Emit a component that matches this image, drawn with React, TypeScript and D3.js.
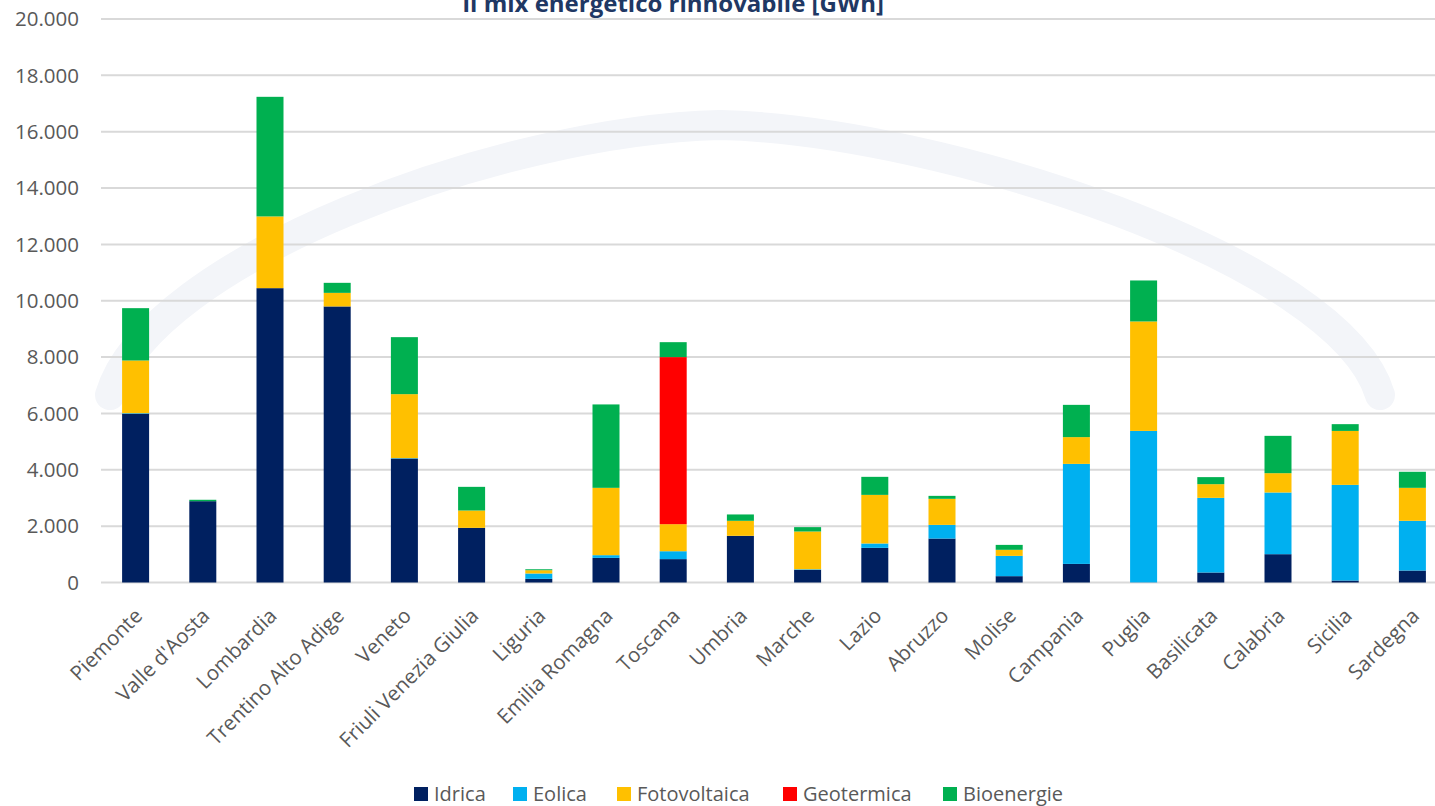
import React from "react";
import * as d3 from "d3";

const categories = ["Piemonte","Valle d'Aosta","Lombardia","Trentino Alto Adige","Veneto","Friuli Venezia Giulia","Liguria","Emilia Romagna","Toscana","Umbria","Marche","Lazio","Abruzzo","Molise","Campania","Puglia","Basilicata","Calabria","Sicilia","Sardegna"];
const idrica = [5990,2886,10447,9798,4400,1940,130,875,830,1655,450,1230,1560,225,660,5,355,1005,70,425];
const eolica = [20,0,0,0,15,0,190,95,280,2,20,155,485,720,3550,5375,2650,2190,3395,1765];
const fotovoltaica = [1870,0,2546,482,2270,615,116,2390,960,533,1340,1725,925,215,950,3885,485,685,1915,1170];
const geotermica = [0,0,0,0,0,0,0,0,5930,0,0,0,0,0,0,0,0,0,0,0];
const bioenergie = [1857,50,4245,356,2023,840,34,2960,530,225,155,640,105,175,1145,1455,250,1325,240,570];
const seriesNames = ["Idrica","Eolica","Fotovoltaica","Geotermica","Bioenergie"];
const seriesColors = ["#002060","#00B0F0","#FFC000","#FF0000","#00B050"];
const yTicks = [0,2000,4000,6000,8000,10000,12000,14000,16000,18000,20000];
const title = "Il mix energetico rinnovabile [GWh]";

const FONT = "'Open Sans', sans-serif";

export default function App() {
  const W = 1435, H = 806;
  const x = d3.scaleBand<string>().domain(categories).range([102, 1446]).paddingInner(0.6).paddingOuter(0.3);
  const y = d3.scaleLinear().domain([0, 20000]).range([582.5, 19]);
  const rows = categories.map((c, i) => ({
    cat: c, Idrica: idrica[i], Eolica: eolica[i], Fotovoltaica: fotovoltaica[i], Geotermica: geotermica[i], Bioenergie: bioenergie[i],
  }));
  const stack = d3.stack<any>().keys(seriesNames)(rows);
  const fmt = (v: number) => d3.format(",")(v).replace(/,/g, ".");
  const bw = 27;
  const legendX = [414, 513, 617, 783, 943];
  return (
    <svg width={W} height={H} style={{ position: "absolute", left: 0, top: 0, background: "#fff" }}>
      <path d="M 110 395 C 150 260 500 130 720 125 C 940 130 1340 260 1380 395" fill="none" stroke="#F3F5F9" strokeWidth={30} strokeLinecap="round" />
      <text x={673} y={12} textAnchor="middle" fontFamily={FONT} fontWeight="bold" fontSize={24} fill="#1F3864">{title}</text>
      {yTicks.map((t) => (
        <g key={t}>
          <line x1={101} x2={1435} y1={y(t)} y2={y(t)} stroke="#D9D9D9" strokeWidth={2} />
          <text x={79} y={y(t)} dy="0.35em" textAnchor="end" fontFamily={FONT} fontSize={20.5} fill="#595959">{fmt(t)}</text>
        </g>
      ))}
      {stack.map((s, si) => (
        <g key={si} fill={seriesColors[si]}>
          {s.map((d, i) => {
            const cx = (x(categories[i]) as number) + x.bandwidth() / 2;
            const h = y(d[0]) - y(d[1]);
            if (h <= 0) return null;
            return <rect key={i} x={cx - bw / 2} y={y(d[1])} width={bw} height={h} />;
          })}
        </g>
      ))}
      {categories.map((c) => {
        const cx = (x(c) as number) + x.bandwidth() / 2;
        return (
          <text key={c} transform={`translate(${cx + 3},${612}) rotate(-45)`} dy="0.35em" textAnchor="end" fontFamily={FONT} fontSize={20.5} fill="#595959">{c}</text>
        );
      })}
      {seriesNames.map((n, i) => (
        <g key={n}>
          <rect x={legendX[i]} y={787} width={14} height={14} fill={seriesColors[i]} />
          <text x={legendX[i] + 20} y={794} dy="0.35em" fontFamily={FONT} fontSize={20} fill="#595959">{n}</text>
        </g>
      ))}
    </svg>
  );
}
